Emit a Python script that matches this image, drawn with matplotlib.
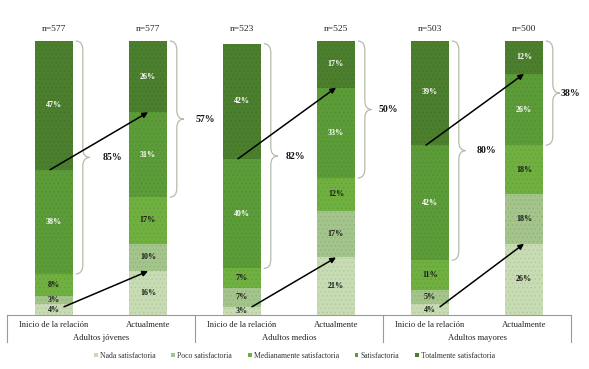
import matplotlib
matplotlib.use("Agg")
import matplotlib.pyplot as plt
import numpy as np
from matplotlib.path import Path
from matplotlib.patches import PathPatch, Patch
import matplotlib.transforms as mtransforms
import matplotlib.colors as mcolors

# ---- data ----
groups = ["Adultos jóvenes", "Adultos medios", "Adultos mayores"]
moments = ["Inicio de la relación", "Actualmente"]
levels = ["Nada satisfactoria", "Poco satisfactoria", "Medianamente satisfactoria",
          "Satisfactoria", "Totalmente satisfactoria"]
# one entry per bar: (group, moment) in order
nada = [4, 16, 3, 21, 4, 26]
poco = [3, 10, 7, 17, 5, 18]
mediana = [8, 17, 7, 12, 11, 18]
satisf = [38, 31, 40, 33, 42, 26]
total = [47, 26, 42, 17, 39, 12]
n_labels = ["n=577", "n=577", "n=523", "n=525", "n=503", "n=500"]
brace_labels = ["85%", "57%", "82%", "50%", "80%", "38%"]

colors = ["#c8dcb4", "#a3c48a", "#70b040", "#5c9c38", "#4b7e2d"]
label_colors = ["#1a1a1a", "#1a1a1a", "#1a1a1a", "white", "white"]

plt.rcParams['font.family'] = ['Liberation Serif', 'DejaVu Serif']
plt.rcParams['hatch.linewidth'] = 0.35

fig = plt.figure(figsize=(5.89, 3.69), dpi=100)
W, H = 589, 369
ax = fig.add_axes([7 / W, 54 / H, (571 - 7) / W, (328 - 54) / H])
ax.set_xlim(0, 3)
ax.set_ylim(0, 100)

series = [nada, poco, mediana, satisf, total]
xs = []
for g in range(len(groups)):
    xs += [g + 0.25, g + 0.75]
xs = np.array(xs)
bw = 0.2

def darker(c, f=0.88):
    r, g_, b = mcolors.to_rgb(c)
    return (r * f, g_ * f, b * f)

bottoms = np.zeros(len(xs))
for k, vals in enumerate(series):
    vals = np.array(vals, dtype=float)
    ax.bar(xs, vals, bw, bottom=bottoms, facecolor=colors[k],
           edgecolor=darker(colors[k]), hatch="....", linewidth=0, zorder=2)
    for i, v in enumerate(vals):
        ax.text(xs[i], bottoms[i] + v / 2, f"{int(v)}%", ha="center", va="center",
                fontsize=5.8, fontweight="bold", color=label_colors[k], zorder=4)
    bottoms += vals

# px -> data helpers
pxx = 3 / 564.0

# n labels
for i, t in enumerate(n_labels):
    ax.annotate(t, (xs[i], 100), xytext=(0, 8.6), textcoords="offset points",
                ha="center", va="center", fontsize=6.8, color="#222222",
                annotation_clip=False)

# braces
def brace(x0, y0, y1, w, r, color="#b4bcaa"):
    xm = x0 + w / 2
    ym = (y0 + y1) / 2
    verts = [(x0, y1), (xm, y1), (xm, y1 - r),
             (xm, ym + r), (xm, ym), (x0 + w, ym),
             (xm, ym), (xm, ym - r),
             (xm, y0 + r), (xm, y0), (x0, y0)]
    codes = [Path.MOVETO, Path.CURVE3, Path.CURVE3,
             Path.LINETO, Path.CURVE3, Path.CURVE3,
             Path.CURVE3, Path.CURVE3,
             Path.LINETO, Path.CURVE3, Path.CURVE3]
    p = PathPatch(Path(verts, codes), fill=False, edgecolor=color, lw=0.9,
                  clip_on=False, zorder=3)
    ax.add_patch(p)
    return x0 + w, ym

cum3 = np.array(nada) + np.array(poco) + np.array(mediana)
tops = np.minimum(bottoms, 100)
gaps = [13, 12, 8, 7, 11, 1]
for i in range(len(xs)):
    x0 = xs[i] + bw / 2 + 3 * pxx
    tipx, ym = brace(x0, cum3[i], tops[i], 14 * pxx, 3.3)
    ax.text(tipx + gaps[i] * pxx, ym, brace_labels[i], ha="left", va="center",
            fontsize=7, fontweight="bold", color="#111111")

# arrows
arrow_kw = dict(arrowstyle="-|>", color="black", lw=1.1, mutation_scale=8,
                shrinkA=0, shrinkB=0)
cum4 = cum3 + np.array(satisf)
for g in range(len(groups)):
    a, b = 2 * g, 2 * g + 1
    ax.annotate("", xy=(xs[b], cum4[b]), xytext=(xs[a] - 4 * pxx, cum4[a]),
                arrowprops=arrow_kw, zorder=5)
    ax.annotate("", xy=(xs[b], nada[b]), xytext=(xs[a] + 10 * pxx, 3),
                arrowprops=arrow_kw, zorder=5)

# axes styling
for s in ["top", "right", "left"]:
    ax.spines[s].set_visible(False)
ax.spines["bottom"].set_color("#9a9a9a")
ax.spines["bottom"].set_linewidth(0.8)
ax.set_yticks([])
ax.set_xticks([])

trans = mtransforms.blended_transform_factory(ax.transData, ax.transAxes)
for i in range(len(xs)):
    ax.text(xs[i], -10 / 274, moments[i % 2], transform=trans, ha="center",
            va="center", fontsize=6.2, color="#222222")
for g, name in enumerate(groups):
    ax.text(g + 0.5, -23 / 274, name, transform=trans, ha="center", va="center",
            fontsize=6.2, color="#222222")
for g in range(len(groups) + 1):
    ax.plot([g, g], [0, -27 / 274], transform=trans, color="#9a9a9a", lw=0.8,
            clip_on=False)

handles = [Patch(facecolor=c, edgecolor="none") for c in colors]
fig.legend(handles, levels, loc="center", bbox_to_anchor=(0.5, 13 / H), ncol=5,
           frameon=False, fontsize=5.6, handlelength=0.5, handleheight=0.5,
           handletextpad=0.3, columnspacing=2.0, labelcolor="#333333")

fig.savefig("out.png", dpi=100)
